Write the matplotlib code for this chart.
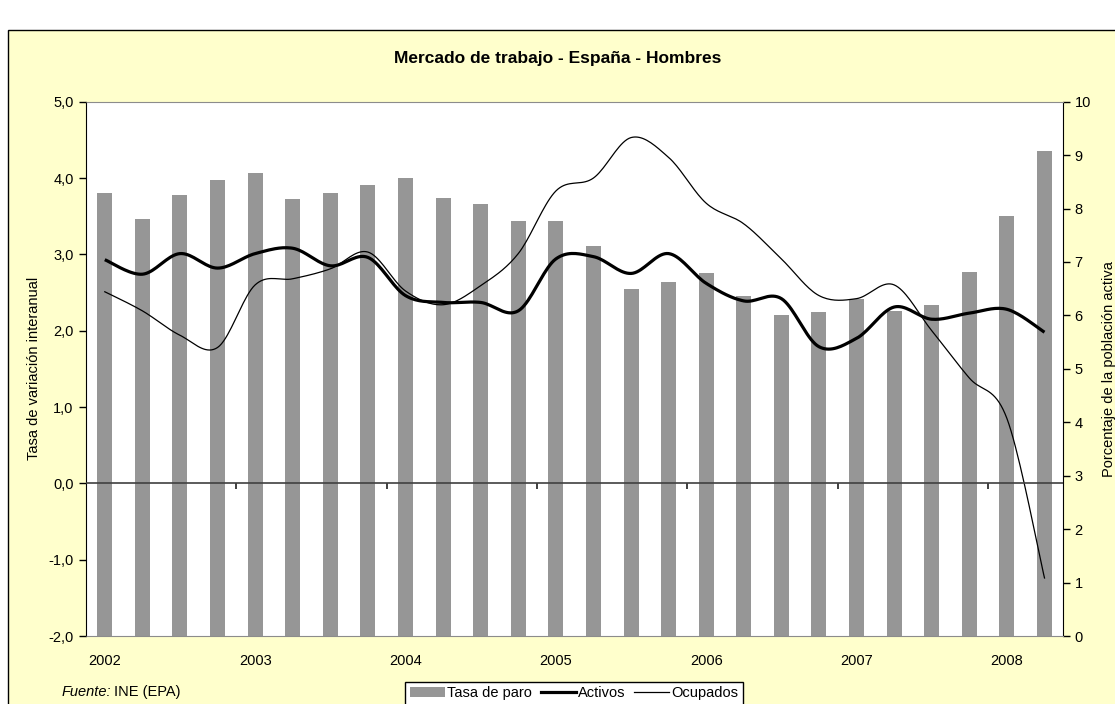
import numpy as np
import matplotlib
matplotlib.use("Agg")
import matplotlib.pyplot as plt
from matplotlib.patches import Rectangle, Patch
from matplotlib.lines import Line2D

plt.rcParams['font.family'] = ['Liberation Sans', 'DejaVu Sans']

# quarterly data 2002T1 - 2008T2
years = ["2002", "2003", "2004", "2005", "2006", "2007", "2008"]
tasa_paro = [8.29, 7.81, 8.26, 8.54, 8.66, 8.17, 8.30, 8.44, 8.57, 8.20, 8.09, 7.76, 7.77,
             7.29, 6.49, 6.63, 6.80, 6.36, 6.01, 6.06, 6.31, 6.09, 6.20, 6.82, 7.87, 9.07]
activos = [2.93, 2.74, 3.01, 2.82, 3.01, 3.08, 2.85, 2.96, 2.46, 2.37, 2.37, 2.26, 2.94,
           2.97, 2.75, 3.01, 2.62, 2.39, 2.42, 1.79, 1.90, 2.31, 2.15, 2.23, 2.28, 1.98]
ocupados = [2.51, 2.26, 1.94, 1.78, 2.60, 2.68, 2.81, 3.03, 2.52, 2.34, 2.59, 3.01, 3.83,
            4.00, 4.53, 4.27, 3.67, 3.40, 2.94, 2.46, 2.42, 2.60, 2.00, 1.38, 0.85, -1.24]


def smooth(vals, n=20):
    # bezier smoothing like the excel "smoothed line" option
    p = np.column_stack([np.arange(len(vals), dtype=float), np.asarray(vals, float)])
    ext = np.vstack([p[0], p, p[-1]])
    t = np.linspace(0, 1, n)[:, None]
    segs = []
    for i in range(len(vals) - 1):
        p0, p1, p2, p3 = ext[i], ext[i + 1], ext[i + 2], ext[i + 3]
        c1 = p1 + (p2 - p0) / 6
        c2 = p2 - (p3 - p1) / 6
        s = (1 - t) ** 3 * p1 + 3 * (1 - t) ** 2 * t * c1 + 3 * (1 - t) * t ** 2 * c2 + t ** 3 * p2
        segs.append(s if i == 0 else s[1:])
    s = np.vstack(segs)
    return s[:, 0], s[:, 1]


fig = plt.figure(figsize=(11.15, 7.04), dpi=100, facecolor="white")
fig.patches.append(Rectangle((8 / 1115, -0.05), 1.1, 1.05 - 30 / 704, transform=fig.transFigure,
                             facecolor="#FFFFCC", edgecolor="black", lw=1, zorder=-5))

ax2 = fig.add_axes([86 / 1115, 1 - 636 / 704, (1063.3 - 86) / 1115, (636 - 101.7) / 704])
ax = ax2.twinx()
ax.yaxis.tick_left()
ax.yaxis.set_label_position("left")
ax.set_zorder(ax2.get_zorder() + 1)
ax.patch.set_visible(False)
ax2.set_facecolor("white")

x = np.arange(len(tasa_paro))
ax2.bar(x, tasa_paro, width=0.4, color="#969696")
ax2.set_ylim(0, 10)
ax2.set_yticks(range(0, 11))
ax2.yaxis.tick_right()
ax2.yaxis.set_label_position("right")
ax2.set_xlim(-0.5, len(x) - 0.5)
ax2.set_xticks(x[::4])
ax2.set_xticklabels(years)
ax2.tick_params(axis="x", length=0, pad=13, labelsize=10.5)
ax2.tick_params(axis="y", length=5, width=1, pad=3, labelsize=10.5, direction="out")
ax2.set_ylabel("Porcentaje de la población activa", fontsize=10.5, labelpad=8)

xa, ya = smooth(activos)
xo, yo = smooth(ocupados)
ax.plot(xa, ya, color="black", lw=2.3, solid_capstyle="butt")
ax.plot(xo, yo, color="black", lw=0.9)
ax.set_ylim(-2, 5)
ax.set_yticks(np.arange(-2, 5.1, 1))
ax.set_yticklabels([f"{v:.1f}".replace(".", ",") for v in np.arange(-2, 5.1, 1)])
ax.tick_params(axis="y", length=5, width=1, pad=4, labelsize=10.5, direction="out")
ax.set_ylabel("Tasa de variación interanual", fontsize=10.5, labelpad=5)
ax.axhline(0, color="#404040", lw=1.2, zorder=3)

# category axis crosses at zero
sec = ax.secondary_xaxis(2 / 7)
sec.set_xticks(np.arange(3.5, len(x), 4))
sec.set_xticklabels([])
sec.tick_params(axis="x", length=4, width=1.2, color="#202020", direction="out")
sec.spines["bottom"].set_visible(False)

for s in ["left", "top", "bottom", "right"]:
    ax.spines[s].set_visible(False)
ax2.spines["left"].set_color("black")
ax2.spines["right"].set_color("black")
ax2.spines["top"].set_color("#8c8c8c")
ax2.spines["bottom"].set_color("#8c8c8c")

fig.text(0.5, 1 - 58 / 704, "Mercado de trabajo - España - Hombres", ha="center", va="center",
         fontsize=12.5, fontweight="bold")

fig.text(62 / 1115, 1 - 692 / 704, "Fuente:", fontsize=10.5, style="italic", va="center")
fig.text(114 / 1115, 1 - 692 / 704, "INE (EPA)", fontsize=10.5, va="center")

handles = [Patch(facecolor="#969696", edgecolor="none"),
           Line2D([], [], color="black", lw=2.3),
           Line2D([], [], color="black", lw=0.9)]
leg = fig.legend(handles, ["Tasa de paro", "Activos", "Ocupados"], loc="upper center",
                 bbox_to_anchor=(574 / 1115, 1 - 682 / 704), ncol=3, fontsize=10.5,
                 frameon=True, fancybox=False, edgecolor="black", framealpha=1,
                 handlelength=2.4, handletextpad=0.15, columnspacing=0.6, borderpad=0.3,
                 borderaxespad=0)
leg.get_frame().set_linewidth(1)

fig.savefig("out.png", dpi=100, facecolor=fig.get_facecolor())
